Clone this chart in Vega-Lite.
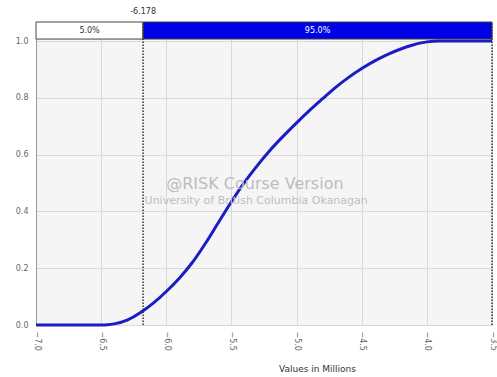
{
  "$schema": "https://vega.github.io/schema/vega-lite/v6.json",
  "width": 456,
  "height": 303,
  "autosize": {"type": "none"},
  "padding": {"left": 36, "top": 22, "right": 5, "bottom": 52},
  "background": "white",
  "config": {
    "view": {"fill": "#f5f5f5", "stroke": null},
    "font": "DejaVu Sans",
    "axis": {
      "gridColor": "#d9d9d9",
      "gridWidth": 1,
      "labelColor": "#666666",
      "labelFontSize": 8,
      "ticks": false,
      "domainColor": "#9a9a9a"
    }
  },
  "datasets": {
    "cdf": [
      {"value": -7.0, "p": 0.0},
      {"value": -6.7, "p": 0.0},
      {"value": -6.5, "p": 0.0},
      {"value": -6.45, "p": 0.001},
      {"value": -6.4, "p": 0.004},
      {"value": -6.3, "p": 0.017},
      {"value": -6.2, "p": 0.043},
      {"value": -6.178, "p": 0.05},
      {"value": -6.1, "p": 0.077},
      {"value": -6.0, "p": 0.118},
      {"value": -5.9, "p": 0.165},
      {"value": -5.8, "p": 0.22},
      {"value": -5.7, "p": 0.287},
      {"value": -5.6, "p": 0.361},
      {"value": -5.5, "p": 0.434},
      {"value": -5.4, "p": 0.502},
      {"value": -5.3, "p": 0.562},
      {"value": -5.2, "p": 0.617},
      {"value": -5.1, "p": 0.666},
      {"value": -5.0, "p": 0.712},
      {"value": -4.9, "p": 0.756},
      {"value": -4.8, "p": 0.797},
      {"value": -4.7, "p": 0.837},
      {"value": -4.6, "p": 0.872},
      {"value": -4.5, "p": 0.903},
      {"value": -4.4, "p": 0.93},
      {"value": -4.3, "p": 0.953},
      {"value": -4.2, "p": 0.972},
      {"value": -4.1, "p": 0.987},
      {"value": -4.0, "p": 0.997},
      {"value": -3.9, "p": 1.0},
      {"value": -3.7, "p": 1.0},
      {"value": -3.5, "p": 1.0}
    ],
    "bands": [
      {"from": -7.0, "to": -6.178, "side": "left", "share": "5.0%"},
      {"from": -6.178, "to": -3.5, "side": "right", "share": "95.0%"}
    ],
    "markers": [
      {"value": -6.178, "label": "-6.178"},
      {"value": -3.5, "label": ""}
    ],
    "watermark": [
      {"value": -5.32, "p": 0.495, "text": "@RISK Course Version", "line": "head"},
      {"value": -5.31, "p": 0.435, "text": "University of British Columbia Okanagan", "line": "sub"}
    ]
  },
  "layer": [
    {
      "data": {"name": "cdf"},
      "mark": {"type": "line", "interpolate": "monotone", "color": "#1c1cc4", "strokeWidth": 3},
      "encoding": {
        "x": {
          "field": "value",
          "type": "quantitative",
          "scale": {"domain": [-7, -3.5], "nice": false, "zero": false},
          "axis": {
            "values": [-7, -6.5, -6, -5.5, -5, -4.5, -4, -3.5],
            "format": ".1f",
            "labelAngle": 90,
            "labelAlign": "left",
            "labelBaseline": "middle",
            "labelPadding": 6,
            "title": "Values in Millions",
            "titleFontSize": 9,
            "titleFontWeight": "normal",
            "titleColor": "#333333",
            "titleX": 281,
            "titlePadding": 14,
            "domain": false
          }
        },
        "y": {
          "field": "p",
          "type": "quantitative",
          "scale": {"domain": [0, 1.067], "nice": false},
          "axis": {
            "values": [0, 0.2, 0.4, 0.6, 0.8, 1.0],
            "format": ".1f",
            "labelPadding": 8,
            "title": null
          }
        }
      }
    },
    {
      "data": {"name": "bands"},
      "mark": {"type": "rect", "stroke": "#444444", "strokeWidth": 1},
      "encoding": {
        "x": {"field": "from", "type": "quantitative"},
        "x2": {"field": "to"},
        "y": {"datum": 1.007},
        "y2": {"datum": 1.067},
        "fill": {
          "field": "side",
          "type": "nominal",
          "scale": {"domain": ["left", "right"], "range": ["#ffffff", "#0000e6"]},
          "legend": null
        }
      }
    },
    {
      "data": {"name": "bands"},
      "transform": [{"calculate": "(datum.from + datum.to) / 2", "as": "mid"}],
      "mark": {"type": "text", "fontSize": 8, "baseline": "middle"},
      "encoding": {
        "x": {"field": "mid", "type": "quantitative"},
        "y": {"datum": 1.037},
        "text": {"field": "share"},
        "color": {
          "field": "side",
          "type": "nominal",
          "scale": {"domain": ["left", "right"], "range": ["#333333", "#ffffff"]},
          "legend": null
        }
      }
    },
    {
      "data": {"name": "markers"},
      "mark": {"type": "rule", "color": "#333333", "strokeWidth": 1.5, "strokeDash": [1.5, 1.5]},
      "encoding": {
        "x": {"field": "value", "type": "quantitative"},
        "y": {"datum": 0},
        "y2": {"datum": 1.067}
      }
    },
    {
      "data": {"name": "markers"},
      "mark": {"type": "text", "fontSize": 8, "color": "#333333", "baseline": "bottom", "dy": -6},
      "encoding": {
        "x": {"field": "value", "type": "quantitative"},
        "y": {"datum": 1.067},
        "text": {"field": "label"}
      }
    },
    {
      "data": {"name": "watermark"},
      "mark": {"type": "text", "color": "#bdbdbd", "baseline": "middle"},
      "encoding": {
        "x": {"field": "value", "type": "quantitative"},
        "y": {"field": "p", "type": "quantitative"},
        "text": {"field": "text"},
        "size": {
          "field": "line",
          "type": "nominal",
          "scale": {"domain": ["head", "sub"], "range": [16, 11]},
          "legend": null
        },
        "font": {
          "field": "line",
          "type": "nominal",
          "scale": {"domain": ["head", "sub"], "range": ["DejaVu Sans", "Liberation Serif"]},
          "legend": null
        }
      }
    }
  ]
}
